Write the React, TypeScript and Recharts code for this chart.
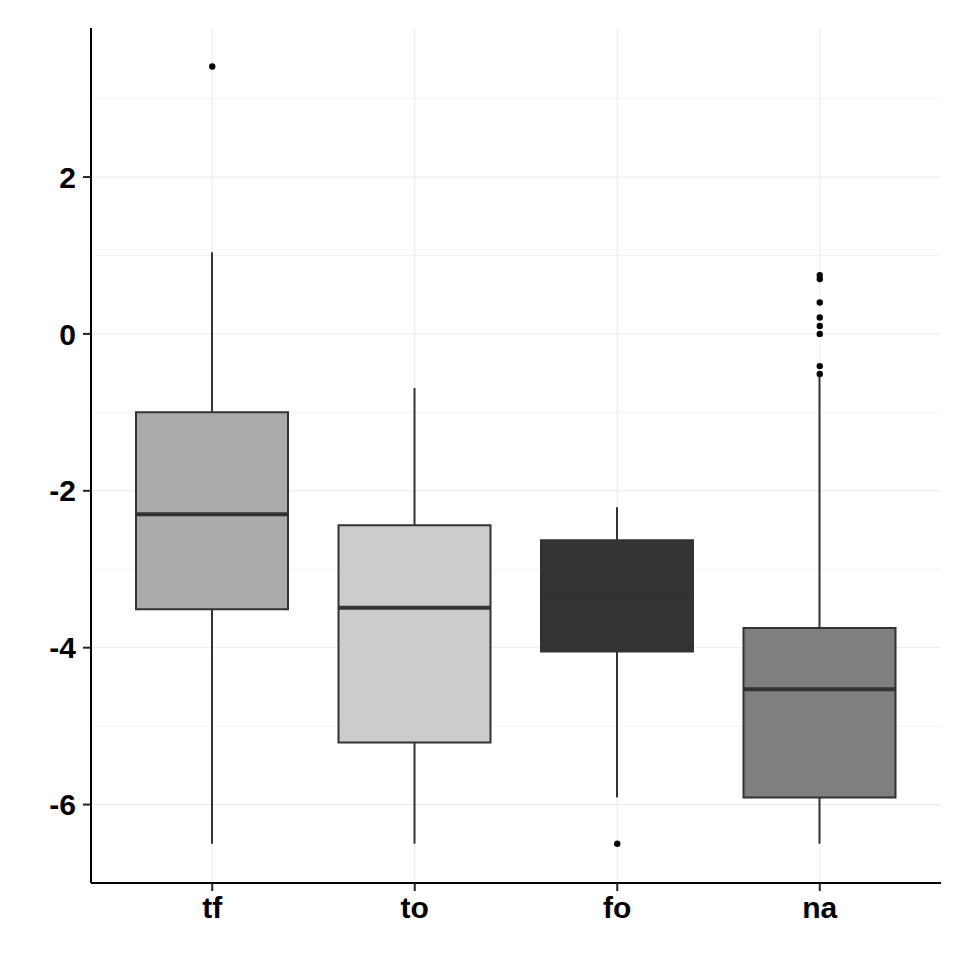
import React from "react";
import {
  ComposedChart,
  Bar,
  Line,
  Cell,
  XAxis,
  YAxis,
  CartesianGrid,
} from "recharts";

// groups
const categories = ["tf", "to", "fo", "na"];

// box stats
const q1 = [-3.51, -5.21, -4.05, -5.91];
const q3 = [-1.0, -2.44, -2.63, -3.75];
const medians = [-2.3, -3.49, -3.35, -4.53];
const whiskerLow = [-6.5, -6.5, -5.91, -6.5];
const whiskerHigh = [1.04, -0.69, -2.21, -0.51];

// outlier points per group
const outliersTf = [3.41];
const outliersTo: number[] = [];
const outliersFo = [-6.5];
const outliersNa = [0.75, 0.7, 0.4, 0.21, 0.1, 0.0, -0.41, -0.51];

const boxFills = ["#ababab", "#cccccc", "#333333", "#7f7f7f"];

const majorTicks = [-6, -4, -2, 0, 2];
const minorTicks = [-5, -3, -1, 1, 3];

const outlierLists = [outliersTf, outliersTo, outliersFo, outliersNa];
const maxOut = Math.max(...outlierLists.map((o) => o.length));
const outKeys = Array.from({ length: maxOut }, (_, i) => `o${i}`);

const rows = categories.map((cat, i) => {
  const row: Record<string, any> = {
    cat,
    box: [q1[i], q3[i]],
    whisker: [whiskerLow[i], whiskerHigh[i]],
    median: medians[i],
  };
  outKeys.forEach((k, j) => {
    row[k] = outlierLists[i][j] ?? null;
  });
  return row;
});

const BOX_W = 152;
const font = { fontSize: 30, fontWeight: 700, fill: "#000", fontFamily: "'Liberation Sans', Arial, sans-serif" };

const MedianMark = (props: any) => {
  const { cx, cy, index } = props;
  if (cx == null || cy == null) return <g key={`m${index}`} />;
  return (
    <line
      key={`m${index}`}
      x1={cx - BOX_W / 2}
      x2={cx + BOX_W / 2}
      y1={cy}
      y2={cy}
      stroke="#333333"
      strokeWidth={4}
    />
  );
};

export default function App() {
  return (
    <div style={{ position: "absolute", left: 0, top: 0, background: "#fff" }}>
      <ComposedChart
        width={969}
        height={969}
        data={rows}
        margin={{ top: 28, right: 28, bottom: 0, left: 0 }}
      >
        <CartesianGrid vertical={false} horizontalValues={minorTicks} stroke="#f4f4f4" />
        <CartesianGrid vertical={false} horizontalValues={majorTicks} stroke="#ebebeb" />
        <CartesianGrid horizontal={false} verticalValues={categories} stroke="#ebebeb" />
        <XAxis
          dataKey="cat"
          height={86}
          padding={{ left: 20, right: 20 }}
          tick={font}
          tickSize={8}
          tickMargin={6}
          axisLine={{ stroke: "#000", strokeWidth: 2 }}
          tickLine={{ stroke: "#222", strokeWidth: 2 }}
        />
        <XAxis xAxisId="w" dataKey="cat" hide padding={{ left: 20, right: 20 }} />
        <YAxis
          width={91}
          type="number"
          domain={[-7.0, 3.9]}
          allowDataOverflow
          ticks={majorTicks}
          tick={font}
          tickSize={8}
          tickMargin={7}
          axisLine={{ stroke: "#000", strokeWidth: 2 }}
          tickLine={{ stroke: "#222", strokeWidth: 2 }}
        />
        <Bar
          xAxisId="w"
          dataKey="whisker"
          barSize={2}
          fill="#333333"
          isAnimationActive={false}
        />
        <Bar
          dataKey="box"
          barSize={BOX_W}
          stroke="#333333"
          strokeWidth={2}
          isAnimationActive={false}
        >
          {rows.map((r, i) => (
            <Cell key={r.cat} fill={boxFills[i]} />
          ))}
        </Bar>
        <Line
          dataKey="median"
          stroke="none"
          dot={MedianMark}
          activeDot={false}
          isAnimationActive={false}
        />
        {outKeys.map((k) => (
          <Line
            key={k}
            dataKey={k}
            stroke="none"
            connectNulls={false}
            dot={{ r: 3.2, fill: "#000", stroke: "none" }}
            activeDot={false}
            isAnimationActive={false}
          />
        ))}
      </ComposedChart>
    </div>
  );
}
